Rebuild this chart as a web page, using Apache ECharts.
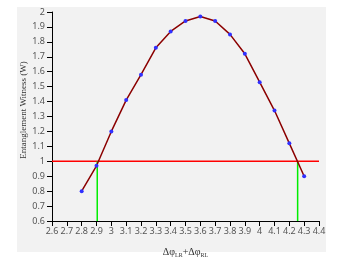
<!DOCTYPE html>
<html><head><meta charset="utf-8">
<script src="https://cdn.jsdelivr.net/npm/echarts@6/dist/echarts.min.js"></script>
<style>html,body{margin:0;padding:0;background:#fff}#c{width:343px;height:263px}</style>
</head><body><div id="c"></div>
<script>
const xValues = [2.8,2.9,3.0,3.1,3.2,3.3,3.4,3.5,3.6,3.7,3.8,3.9,4.0,4.1,4.2,4.3];
const witness = [0.80,0.97,1.20,1.41,1.58,1.76,1.87,1.94,1.97,1.94,1.85,1.72,1.53,1.34,1.12,0.90];
const threshold = 1;
const xRange = [2.6, 4.4];
const crossings = [2.905, 4.256];
const yBase = 0.6;
const yTitle = 'Entanglement Witness (W)';

const chart = echarts.init(document.getElementById('c'), null, {renderer:'canvas'});
const fmt = v => String(+(+v).toFixed(1));
const axisCommon = {
  axisLine:{show:true,lineStyle:{color:'#000',width:1}},
  axisTick:{show:true,inside:false,length:5,lineStyle:{color:'#000'}},
  splitLine:{show:false},
  axisLabel:{color:'#555',fontSize:9,fontFamily:'Noto Sans',formatter:fmt}
};
chart.setOption({
  animation:false,
  graphic:[
    {type:'rect',z:-100,silent:true,shape:{x:17,y:7,width:309,height:245},style:{fill:'#f2f2f2'}},
    {type:'text',z:10,silent:true,x:24,y:110,rotation:Math.PI/2,
     style:{text:yTitle,font:'9px "Liberation Serif"',fill:'#333',align:'center',verticalAlign:'middle'}}
  ],
  grid:{left:52,right:24,top:12,bottom:42,containLabel:false},
  xAxis:Object.assign({type:'value',min:xRange[0],max:xRange[1],interval:0.1,
    name:'{t|Δφ}{s|LR}{t|+Δφ}{s|RL}',nameLocation:'middle',nameGap:25,
    nameTextStyle:{rich:{t:{fontFamily:'Liberation Serif',fontSize:10,color:'#333'},s:{fontFamily:'Liberation Serif',fontSize:6,color:'#333',verticalAlign:'bottom',padding:[6,0,0,0]}}}
  },JSON.parse(JSON.stringify(axisCommon)),{axisLabel:Object.assign({},axisCommon.axisLabel,{margin:6})}),
  yAxis:Object.assign({type:'value',min:0.6,max:2,interval:0.1},
    JSON.parse(JSON.stringify(axisCommon)),{axisLabel:Object.assign({},axisCommon.axisLabel,{margin:7})}),
  series:[
    {type:'line',data:[[xRange[0],threshold],[xRange[1],threshold]],symbol:'none',lineStyle:{color:'#ff0000',width:1.6},z:1,emphasis:{disabled:true}},
    {type:'line',data:[[crossings[0],yBase],[crossings[0],threshold]],symbol:'none',lineStyle:{color:'#00ee00',width:1.5},z:2,emphasis:{disabled:true}},
    {type:'line',data:[[crossings[1],yBase],[crossings[1],threshold]],symbol:'none',lineStyle:{color:'#00ee00',width:1.5},z:2,emphasis:{disabled:true}},
    {type:'line',data:xValues.map((x,i)=>[x,witness[i]]),symbol:'circle',symbolSize:4,
     itemStyle:{color:'#3030ff'},lineStyle:{color:'#8b0000',width:1.5},z:3}
  ]
});
</script></body></html>
